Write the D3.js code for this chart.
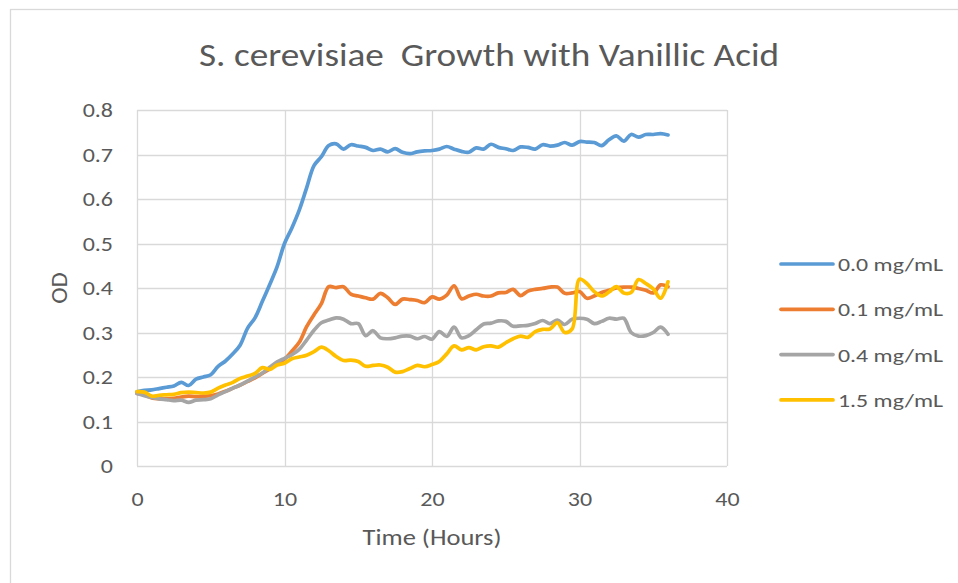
<!DOCTYPE html>
<html><head><meta charset="utf-8">
<script src="https://cdn.jsdelivr.net/npm/d3@7"></script>
<style>
html,body{margin:0;padding:0;background:#fff;}
svg{display:block;font-family:Carlito, Lato, "Liberation Sans", sans-serif;}
</style></head>
<body><svg id="chart" width="958" height="583"></svg>
<script>
const title = "S. cerevisiae  Growth with Vanillic Acid";
const xLabel = "Time (Hours)";
const yLabel = "OD";
const xTicks = [0, 10, 20, 30, 40];
const yTicks = [0, 0.1, 0.2, 0.3, 0.4, 0.5, 0.6, 0.7, 0.8];
const seriesNames = ["0.0 mg/mL", "0.1 mg/mL", "0.4 mg/mL", "1.5 mg/mL"];
const seriesColors = ["#5B9BD5", "#ED7D31", "#A5A5A5", "#FFC000"];
const hours = [0,0.5,1,1.5,2,2.5,3,3.5,4,4.5,5,5.5,6,6.5,7,7.5,8,8.5,9,9.5,10,10.5,11,11.5,12,12.5,13,13.5,14,14.5,15,15.5,16,16.5,17,17.5,18,18.5,19,19.5,20,20.5,21,21.5,22,22.5,23,23.5,24,24.5,25,25.5,26,26.5,27,27.5,28,28.5,29,29.5,30,30.5,31,31.5,32,32.5,33,33.5,34,34.5,35,35.5,36];
const od00 = [0.167,0.170,0.171,0.174,0.177,0.180,0.188,0.181,0.195,0.200,0.205,0.224,0.236,0.252,0.272,0.310,0.333,0.370,0.408,0.448,0.500,0.535,0.575,0.625,0.675,0.695,0.720,0.724,0.712,0.722,0.719,0.716,0.709,0.712,0.706,0.713,0.705,0.702,0.706,0.708,0.709,0.712,0.718,0.712,0.707,0.705,0.715,0.712,0.723,0.716,0.713,0.709,0.717,0.716,0.712,0.722,0.719,0.721,0.727,0.721,0.729,0.728,0.727,0.720,0.733,0.742,0.730,0.745,0.739,0.745,0.745,0.747,0.744];
const od01 = [0.163,0.160,0.153,0.151,0.151,0.152,0.155,0.157,0.156,0.157,0.158,0.162,0.168,0.175,0.182,0.190,0.198,0.208,0.218,0.229,0.240,0.258,0.278,0.313,0.340,0.365,0.403,0.401,0.403,0.386,0.382,0.378,0.375,0.388,0.378,0.363,0.375,0.374,0.372,0.367,0.380,0.375,0.384,0.405,0.376,0.382,0.386,0.382,0.382,0.389,0.390,0.397,0.383,0.393,0.397,0.399,0.402,0.402,0.388,0.389,0.392,0.377,0.382,0.390,0.395,0.400,0.402,0.402,0.399,0.395,0.389,0.407,0.403];
const od04 = [0.163,0.158,0.154,0.151,0.149,0.147,0.148,0.143,0.148,0.149,0.151,0.160,0.167,0.175,0.182,0.191,0.200,0.209,0.222,0.234,0.242,0.250,0.262,0.283,0.305,0.322,0.328,0.333,0.330,0.320,0.320,0.293,0.304,0.288,0.286,0.288,0.292,0.292,0.286,0.291,0.285,0.302,0.291,0.312,0.288,0.293,0.306,0.319,0.321,0.326,0.325,0.314,0.315,0.316,0.320,0.327,0.320,0.328,0.318,0.330,0.332,0.330,0.320,0.325,0.332,0.330,0.332,0.300,0.292,0.293,0.300,0.312,0.296];
const od15 = [0.167,0.166,0.157,0.159,0.160,0.161,0.165,0.166,0.165,0.164,0.166,0.175,0.182,0.188,0.197,0.202,0.208,0.221,0.217,0.227,0.231,0.241,0.245,0.249,0.257,0.267,0.259,0.246,0.237,0.238,0.235,0.224,0.226,0.227,0.222,0.211,0.212,0.219,0.226,0.223,0.228,0.235,0.252,0.270,0.261,0.266,0.261,0.268,0.270,0.267,0.277,0.286,0.292,0.289,0.302,0.307,0.308,0.322,0.300,0.308,0.420,0.410,0.392,0.382,0.391,0.403,0.389,0.390,0.419,0.410,0.398,0.377,0.414];
const seriesValues = [od00, od01, od04, od15];

const svg = d3.select("#chart");
const textColor = "#595959", gridColor = "#D9D9D9";
const m = {left:137, right:727, top:110, bottom:466};

function stretch(sel, k) {
  sel.each(function() {
    const w = this.getComputedTextLength();
    d3.select(this).attr("textLength", w * k).attr("lengthAdjust", "spacingAndGlyphs");
  });
}

// outer chart border
svg.append("rect").attr("x",10.5).attr("y",9.5).attr("width",1000).attr("height",1000)
  .attr("fill","none").attr("stroke",gridColor).attr("stroke-width",1.3);

const x = d3.scaleLinear().domain([0,40]).range([m.left,m.right]);
const y = d3.scaleLinear().domain([0,0.8]).range([m.bottom,m.top]);

// gridlines
svg.append("g").selectAll("line").data(yTicks).join("line")
  .attr("x1",m.left).attr("x2",m.right)
  .attr("y1",d=>Math.round(y(d))+0.5).attr("y2",d=>Math.round(y(d))+0.5)
  .attr("stroke",gridColor).attr("stroke-width",1.3);
svg.append("g").selectAll("line").data(xTicks).join("line")
  .attr("y1",m.top).attr("y2",m.bottom)
  .attr("x1",d=>Math.round(x(d))+0.5).attr("x2",d=>Math.round(x(d))+0.5)
  .attr("stroke",gridColor).attr("stroke-width",1.3);

// axes (labels only)
const yAxis = svg.append("g").attr("transform",`translate(${m.left},0)`)
  .call(d3.axisLeft(y).tickValues(yTicks).tickFormat(d=>d===0?"0":d3.format(".1f")(d)).tickSize(0).tickPadding(24));
const xAxis = svg.append("g").attr("transform",`translate(0,${m.bottom})`)
  .call(d3.axisBottom(x).tickValues(xTicks).tickFormat(d3.format("d")).tickSize(0).tickPadding(25));
[yAxis,xAxis].forEach(a=>{
  a.select(".domain").remove();
  a.selectAll("text").attr("fill",textColor).style("font-size","20.5px").style("font-family","Carlito, Lato, sans-serif");
  stretch(a.selectAll("text"), 1.17);
});

// lines
const line = d3.line().x((d,i)=>x(hours[i])).y(d=>y(d)).curve(d3.curveCatmullRom.alpha(0.5));
svg.append("g").selectAll("path").data(seriesValues).join("path")
  .attr("d",d=>line(d)).attr("fill","none")
  .attr("stroke",(d,i)=>seriesColors[i]).attr("stroke-width",3.7)
  .attr("stroke-linejoin","round").attr("stroke-linecap","round");

// title and axis titles
svg.append("text").attr("x",489).attr("y",66).attr("text-anchor","middle")
  .style("white-space","pre").attr("xml:space","preserve")
  .attr("fill",textColor).style("font-size","33px").text(title)
  .attr("textLength",580).attr("lengthAdjust","spacingAndGlyphs");
const xt = svg.append("text").attr("x",432).attr("y",545).attr("text-anchor","middle")
  .attr("fill",textColor).style("font-size","21.5px").text(xLabel);
xt.attr("textLength",139).attr("lengthAdjust","spacingAndGlyphs");
const yt = svg.append("text").attr("transform","translate(67,288) rotate(-90)").attr("text-anchor","middle")
  .attr("fill",textColor).style("font-size","21.5px").text(yLabel);
stretch(yt, 1.15);

// legend
const lg = svg.append("g").selectAll("g").data(seriesNames).join("g")
  .attr("transform",(d,i)=>`translate(781,${264 + i*45.3})`);
lg.append("line").attr("x1",0).attr("x2",52).attr("y1",0).attr("y2",0)
  .attr("stroke",(d,i)=>seriesColors[i]).attr("stroke-width",3.7).attr("stroke-linecap","round");
const lt = lg.append("text").attr("x",57).attr("y",7).attr("fill",textColor).style("font-size","19px").text(d=>d);
lt.attr("textLength",105).attr("lengthAdjust","spacingAndGlyphs");
</script></body></html>
